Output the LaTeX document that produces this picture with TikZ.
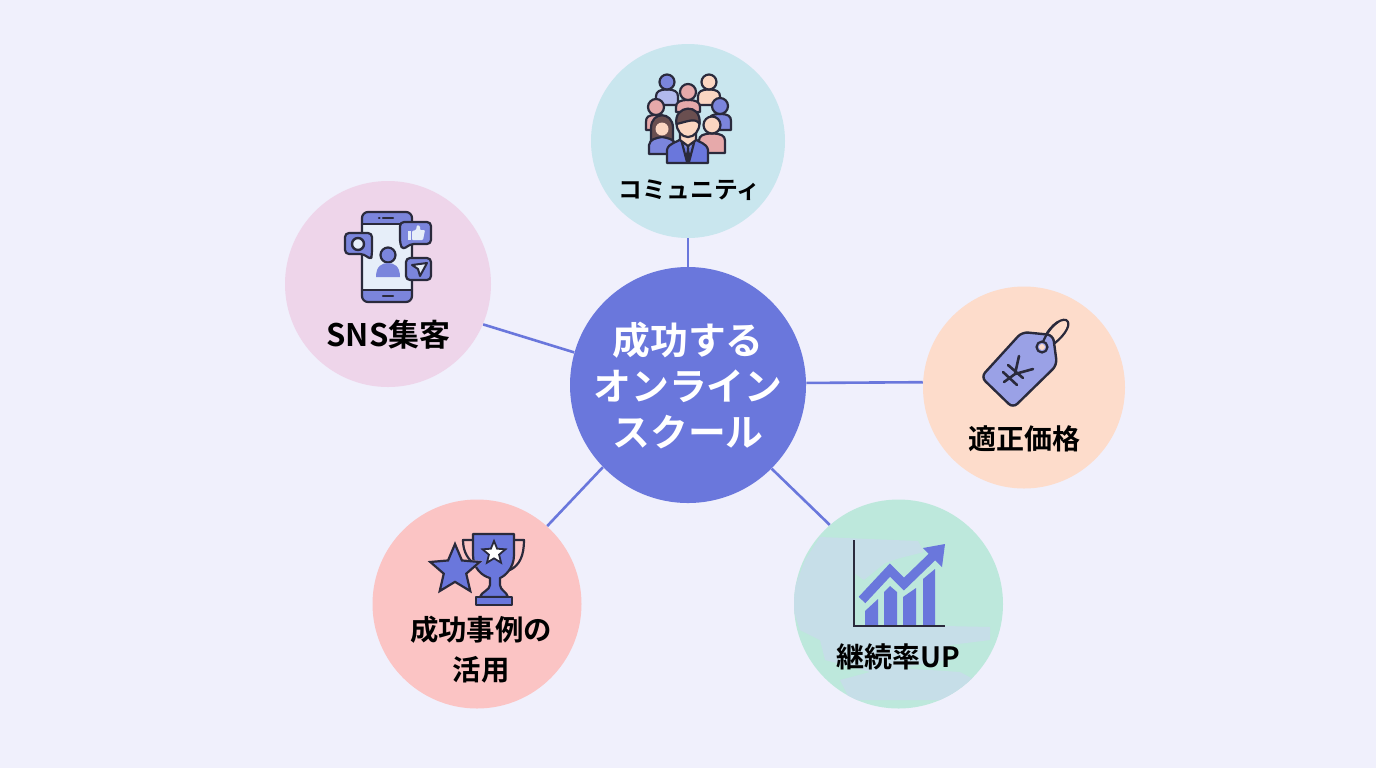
\documentclass[tikz,border=0pt]{standalone}
\usepackage{fontspec}
\setmainfont{Noto Sans CJK JP}[BoldFont={* Bold}]
\usetikzlibrary{shapes.geometric}
\definecolor{bgc}{HTML}{F0F0FC}
\definecolor{mainc}{HTML}{6A77DC}
\definecolor{inkc}{HTML}{2A2A3C}
\definecolor{midc}{HTML}{7B85DC}
\definecolor{lightc}{HTML}{B2B9EC}
\definecolor{pinkc}{HTML}{E6A9AA}
\definecolor{peachc}{HTML}{FBD6C2}
\definecolor{hairc}{HTML}{6A4F50}
\definecolor{commc}{HTML}{C9E6EE}
\definecolor{snsc}{HTML}{EED5EA}
\definecolor{pricec}{HTML}{FDDCCB}
\definecolor{succc}{HTML}{FBC4C4}
\definecolor{retc}{HTML}{BDE8DC}
\definecolor{ditherc}{HTML}{C6DEE8}
\definecolor{tagc}{HTML}{9AA1E6}
\definecolor{screenc}{HTML}{E6EEF9}
\tikzset{
  x=0.5pt,y=-0.5pt,
  hub/.style={circle,draw=none,fill=#1,inner sep=0pt},
  link/.style={draw=mainc,line width=1.3pt},
  lab/.style={font=\bfseries\fontsize{14}{17}\selectfont,text=black,align=center,inner sep=0pt},
  ink/.style={draw=inkc,line width=1.1pt,line join=round,line cap=round},
}
\newcommand{\person}[7]{% x, y head, r, half width, body bottom, head col, body col
  \fill[#7,draw=inkc,line width=1.1pt,line join=round]
    (#1-#4,#5) -- (#1-#4,#2+#3+7) .. controls (#1-#4,#2+#3+2) and (#1-#3,#2+#3) .. (#1,#2+#3)
    .. controls (#1+#3,#2+#3) and (#1+#4,#2+#3+2) .. (#1+#4,#2+#3+7) -- (#1+#4,#5) -- cycle;
  \fill[#6,draw=inkc,line width=1.1pt] (#1,#2) circle[radius=#3];
}
\begin{document}
\begin{tikzpicture}
\useasboundingbox (0,0) rectangle (1376,768);
\fill[bgc] (0,0) rectangle (1376,768);

% hubs
\node[hub=mainc,minimum size=118pt,text=white,font=\bfseries\fontsize{18.9}{23}\selectfont,align=center] (center) at (688,385) {成功する\\オンライン\\スクール};
\node[hub=commc,minimum size=97pt] (comm) at (688,141) {};
\node[hub=snsc,minimum size=103pt] (sns) at (388,284) {};
\node[hub=pricec,minimum size=101pt] (price) at (1024,387.5) {};
\node[hub=succc,minimum size=104.5pt] (succ) at (477,604) {};
\node[hub=retc,minimum size=104.5pt] (ret) at (898.5,604) {};

% dithered patches of the last circle
\begin{scope}
\clip (898.5,604) circle[radius=104.5];
\fill[ditherc] (820,537) -- (918,541) -- (924,552) -- (900,558) -- (885,563) -- (864,580) -- (854,573) -- (854,625) -- (900,625) -- (990,627) -- (990,640) -- (950,645) -- (945,660) -- (900,668) -- (960,672) -- (975,680) -- (960,700) -- (850,700) -- (840,680) -- (870,672) -- (825,660) -- (820,640) -- (800,630) -- (790,600) -- (805,560) -- cycle;
\end{scope}

% connectors
\draw[link] (center) -- (comm);
\draw[link] (center.164.7) -- (sns.337.2);
\draw[link] (center.1) -- (price.177.4);
\draw[link] (center.224.6) -- (succ.48.4);
\draw[link] (center.315.7) -- (ret.131.3);

% labels
\node[lab,font=\bfseries\fontsize{11.9}{14}\selectfont] (l1) at (689.5,190) {コミュニティ};
\node[lab,font=\bfseries\fontsize{15.5}{17}\selectfont] (l2) at (388.5,335) {SNS集客};
\node[lab] (l3) at (1024,439) {適正価格};
\node[lab,font=\bfseries\fontsize{14.2}{20}\selectfont] (l4) at (481,650) {成功事例の\\活用};
\node[lab] (l5) at (898,657) {継続率UP};

% community icon
\person{667}{82}{7.5}{11}{105}{midc}{lightc}
\person{709}{82}{7.5}{11}{105}{peachc}{peachc}
\person{688}{92}{8}{12}{112}{pinkc}{pinkc}
\person{656}{107}{8}{10}{130}{pinkc}{pinkc}
\person{720}{106}{8}{11}{130}{midc}{midc}
\person{712}{125}{8.5}{13}{153}{peachc}{pinkc}
% woman
\fill[hairc,draw=inkc,line width=1.1pt] (651,140) -- (651,128) .. controls (651,111) and (673,111) .. (673,128) -- (673,140) -- cycle;
\fill[midc,draw=inkc,line width=1.1pt,line join=round] (649,154) -- (649,145) .. controls (650,139) and (656,138) .. (662,137) .. controls (668,138) and (674,139) .. (676,145) -- (676,154) -- cycle;
\fill[peachc] (662,129) circle[radius=6.5];
% man
\fill[mainc,draw=inkc,line width=1.1pt,line join=round] (667,163) -- (667,150) .. controls (668,143) and (678,142) .. (681,139) -- (695,139) .. controls (698,142) and (707,143) .. (708,150) -- (708,163) -- cycle;
\fill[white!70!mainc] (681,139) -- (688,150) -- (695,139) -- cycle;
\draw[ink] (681,139) -- (687,162) (695,139) -- (689,162);
\fill[inkc] (686,143) -- (690,143) -- (689,150) -- (691,158) -- (688,162) -- (685,158) -- (687,150) -- cycle;
\fill[peachc,draw=inkc,line width=1.1pt] (680,132) -- (680,140) -- (688,146) -- (696,140) -- (696,132) -- cycle;
\fill[peachc,draw=inkc,line width=1.1pt] (688,123) ellipse[x radius=11.5,y radius=14];
\fill[hairc,draw=inkc,line width=1.1pt,line join=round] (676.5,124) .. controls (673,105) and (702,102) .. (699.5,124) .. controls (696,117) and (686,122) .. (676.5,124) -- cycle;

% sns icon
\begin{scope}
\clip[rounded corners=3pt] (362,212) rectangle (412,302);
\fill[screenc] (362,212) rectangle (412,302);
\fill[midc] (362,212) rectangle (412,224);
\fill[midc] (362,290) rectangle (412,302);
\end{scope}
\draw[ink,rounded corners=3pt] (362,212) rectangle (412,302);
\draw[ink] (362,224) -- (412,224) (362,290) -- (412,290);
\draw[ink] (383,218) -- (393,218) (379,218) -- (379.5,218) (383,296) -- (393,296);
\fill[midc,draw=inkc,line width=1.1pt] (388,255) circle[radius=7.5];
\fill[midc] (376,277) .. controls (376,266) and (382,263) .. (388,263) .. controls (394,263) and (400,266) .. (400,277) -- cycle;
\draw[ink,fill=midc,rounded corners=2pt] (345,233) -- (372,233) -- (372,254) -- (371,260) -- (364,254) -- (345,254) -- cycle;
\draw[ink,fill=screenc,line width=1.2pt] (358,244) circle[radius=6];
\draw[ink,fill=midc,rounded corners=2pt] (400,222) -- (431,222) -- (431,244) -- (410,244) -- (403,250) -- (400,244) -- cycle;
\fill[screenc] (408,231) rectangle (411,240);
\fill[screenc,rounded corners=0.5pt] (412,231) -- (416,230) -- (417,225) -- (420,226) -- (420,230) -- (425,230) -- (423,240) -- (412,240) -- cycle;
\draw[ink,fill=midc,rounded corners=2pt] (406,258) rectangle (431,280);
\draw[ink,fill=screenc,line width=1pt] (412,265) -- (427,263) -- (420,276) -- (418,269) -- cycle;

% price tag
\draw[ink] (1043,342) .. controls (1047,328) and (1060,318) .. (1066,320) .. controls (1072,323) and (1066,334) .. (1055,343);
\fill[tagc,draw=inkc,line width=1.2pt,rounded corners=3pt] (1022,332) -- (1053,335) -- (1057,365) -- (1013,408) -- (981,377) -- cycle;
\draw[ink,fill=tagc] (1042,347) circle[radius=5.5];
\fill[pricec] (1042,347) circle[radius=3];
\draw[ink] (1043,342) .. controls (1046,334) and (1052,326) .. (1058,322);
\draw[ink,line width=1.3pt] (1019,356) -- (1015,374) (1033,369) -- (1015,374) (1015,374) -- (1004,382)
  (1008,365) -- (1023,378) (1003,372) -- (1017,385);

% trophy
\draw[ink,fill=none] (473,540) -- (463,540) .. controls (463,552) and (468,560) .. (477,566);
\draw[ink,fill=none] (514,540) -- (524,540) .. controls (524,555) and (520,565) .. (510,570);
\fill[mainc,draw=inkc,line width=1.1pt,line join=round] (473,534) -- (514,534) -- (514,555) .. controls (514,568) and (505,576) .. (500,578) -- (500,585) .. controls (500,590) and (507,592) .. (508,597) -- (480,597) .. controls (481,592) and (490,590) .. (490,585) -- (490,578) .. controls (482,576) and (473,568) .. (473,555) -- cycle;
\fill[mainc,draw=inkc,line width=1.1pt,line join=round] (476,597) rectangle (512,605);
\node[star,star points=5,star point ratio=2.25,minimum size=12pt,fill=white,draw=inkc,line width=0.9pt,inner sep=0pt] (tstar) at (494,553) {};
\node[star,star points=5,star point ratio=2.2,minimum size=29pt,fill=succc,inner sep=0pt] (bigstarb) at (455,570) {};
\node[star,star points=5,star point ratio=2.2,minimum size=26pt,fill=mainc,draw=inkc,line width=1.1pt,inner sep=0pt] (bigstar) at (455,570) {};

% chart
\fill[mainc] (865,611) -- (878,599) -- (878,625) -- (865,625) -- cycle;
\fill[mainc] (884,592) -- (890,586) -- (897,592) -- (897,625) -- (884,625) -- cycle;
\fill[mainc] (903,597) -- (916,588) -- (916,625) -- (903,625) -- cycle;
\fill[mainc] (923,579) -- (935,569) -- (935,625) -- (923,625) -- cycle;
\draw[mainc,line width=4.6pt,line join=miter] (862,600) -- (890,570) -- (904,584) -- (933,556);
\fill[mainc] (945,544) -- (923,548) -- (942,567) -- cycle;
\draw[inkc,line width=1pt] (854,540) -- (854,625.5) -- (945,625.5);
\end{tikzpicture}
\end{document}
